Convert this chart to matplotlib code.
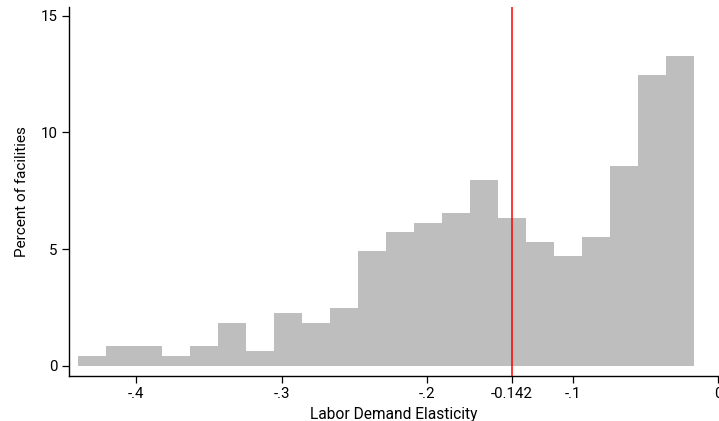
import numpy as np
import matplotlib
matplotlib.use("Agg")
import matplotlib.pyplot as plt

# ── Data ──────────────────────────────────────────────────────────────────────
bin_start = -0.4397
bin_width = 0.01923
percent = [0.41, 0.84, 0.84, 0.41, 0.84, 1.83, 0.63, 2.26, 1.83, 2.47,
           4.92, 5.73, 6.11, 6.54, 7.96, 6.33, 5.30, 4.70, 5.52, 8.56,
           12.46, 13.28]
median_val = -0.142

xticks = [-0.4, -0.3, -0.2, -0.142, -0.1, 0.0]
xtick_labels = ["-.4", "-.3", "-.2", "-0.142", "-.1", "0"]
yticks = [0, 5, 10, 15]

plt.rcParams["font.family"] = ["Roboto", "DejaVu Sans"]

edges = bin_start + bin_width * np.arange(len(percent))

fig = plt.figure(figsize=(7.19, 4.21), dpi=100)
ax = fig.add_axes([68.5 / 719, 45 / 421, (719 - 68.5) / 719, (376 - 7) / 421])

ax.bar(edges, percent, width=bin_width, align="edge", color="#bebebe",
       edgecolor="none", linewidth=0)
ax.axvline(median_val, color="red", lw=1.1, zorder=3)

ax.set_xlim(-0.4465, 0.0005)
ax.set_ylim(-0.44, 15.37)
ax.set_xticks(xticks)
ax.set_xticklabels(xtick_labels)
ax.set_yticks(yticks)

for s in ["top", "right"]:
    ax.spines[s].set_visible(False)
for s in ["left", "bottom"]:
    ax.spines[s].set_linewidth(1.0)
ax.tick_params(axis="both", labelsize=10.8, length=5, width=0.9, pad=3)

ax.set_xlabel("Labor Demand Elasticity", fontsize=11.2, labelpad=4)
ax.set_ylabel("Percent of facilities", fontsize=11, labelpad=8)

fig.savefig("out.png", dpi=100)
